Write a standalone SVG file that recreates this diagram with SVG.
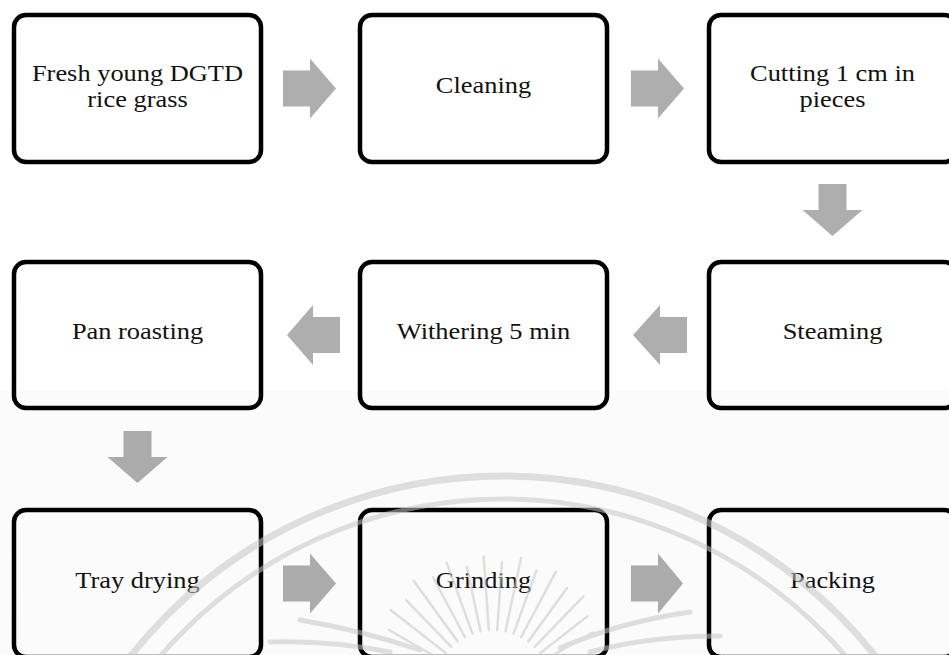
<svg xmlns="http://www.w3.org/2000/svg" width="949" height="655" viewBox="0 0 949 655">
  <style>
    .box { fill: #ffffff; stroke: #000000; stroke-width: 4.5; }
    .lbl { font-family: "Liberation Serif", "Times New Roman", serif; font-size: 24px; fill: #111111; text-anchor: middle; }
    .arr { fill: #AEAEAE; }
    .wm { fill: none; stroke: #c4c4c4; stroke-linecap: round; }
  </style>
  <rect width="949" height="655" fill="#ffffff"/>

  <g id="connectors">
    <path class="arr" d="M283,70.5 H310 V58.5 L336,88.5 L310,118.5 V106.5 H283 Z"/>
    <path class="arr" d="M631,70.5 H658 V58.5 L684,88.5 L658,118.5 V106.5 H631 Z"/>
    <path class="arr" d="M818.5,184 H846.5 V210 H862.5 L832.5,236 L802.5,210 H818.5 Z"/>
    <path class="arr" d="M687,317 H660 V305 L633,335 L660,365 V353 H687 Z"/>
    <path class="arr" d="M340,317 H313 V305 L287,335 L313,365 V353 H340 Z"/>
    <path class="arr" d="M123.5,431 H151.5 V457 H167.5 L137.5,483 L107.5,457 H123.5 Z"/>
    <path class="arr" d="M283,565.5 H310 V553.5 L336,583.5 L310,613.5 V601.5 H283 Z"/>
    <path class="arr" d="M631,565.5 H658 V553.5 L683,583.5 L658,613.5 V601.5 H631 Z"/>
  </g>

  <g id="n1"><rect class="box" x="14" y="15" width="247" height="147" rx="12"/>
    <text class="lbl" transform="translate(137.5,80.5) scale(1.1,1)">Fresh young DGTD</text>
    <text class="lbl" transform="translate(137.5,107) scale(1.1,1)">rice grass</text></g>
  <g id="n2"><rect class="box" x="360" y="15" width="247" height="147" rx="12"/>
    <text class="lbl" transform="translate(483.5,93) scale(1.1,1)">Cleaning</text></g>
  <g id="n3"><rect class="box" x="709" y="15" width="247" height="147" rx="12"/>
    <text class="lbl" transform="translate(832.5,80.5) scale(1.1,1)">Cutting 1 cm in</text>
    <text class="lbl" transform="translate(832.5,107) scale(1.1,1)">pieces</text></g>
  <g id="n4"><rect class="box" x="709" y="262" width="247" height="146" rx="12"/>
    <text class="lbl" transform="translate(832.5,339) scale(1.1,1)">Steaming</text></g>
  <g id="n5"><rect class="box" x="360" y="262" width="247" height="146" rx="12"/>
    <text class="lbl" transform="translate(483.5,339) scale(1.1,1)">Withering 5 min</text></g>
  <g id="n6"><rect class="box" x="14" y="262" width="247" height="146" rx="12"/>
    <text class="lbl" transform="translate(137.5,339) scale(1.1,1)">Pan roasting</text></g>
  <g id="n7"><rect class="box" x="14" y="510" width="247" height="147" rx="12"/>
    <text class="lbl" transform="translate(137.5,588) scale(1.1,1)">Tray drying</text></g>
  <g id="n8"><rect class="box" x="360" y="510" width="247" height="147" rx="12"/>
    <text class="lbl" transform="translate(483.5,588) scale(1.1,1)">Grinding</text></g>
  <g id="n9"><rect class="box" x="709" y="510" width="247" height="147" rx="12"/>
    <text class="lbl" transform="translate(832.5,588) scale(1.1,1)">Packing</text></g>

  <g id="watermark" opacity="0.55">
    <rect x="0" y="390" width="949" height="265" fill="#000000" opacity="0.025"/>
    <circle class="wm" cx="503" cy="951" r="475" stroke-width="7"/>
    <circle class="wm" cx="503" cy="951" r="452" stroke-width="5"/>
    <g transform="translate(493,690)" stroke="#c4c4c4" stroke-width="2.5" stroke-linecap="round">
      <line x1="60" y1="0" x2="120" y2="0" transform="rotate(-150)"/>
      <line x1="60" y1="0" x2="130" y2="0" transform="rotate(-142)"/>
      <line x1="60" y1="0" x2="125" y2="0" transform="rotate(-134)"/>
      <line x1="60" y1="0" x2="135" y2="0" transform="rotate(-126)"/>
      <line x1="60" y1="0" x2="128" y2="0" transform="rotate(-118)"/>
      <line x1="60" y1="0" x2="135" y2="0" transform="rotate(-110)"/>
      <line x1="60" y1="0" x2="126" y2="0" transform="rotate(-102)"/>
      <line x1="60" y1="0" x2="134" y2="0" transform="rotate(-94)"/>
      <line x1="60" y1="0" x2="128" y2="0" transform="rotate(-86)"/>
      <line x1="60" y1="0" x2="135" y2="0" transform="rotate(-78)"/>
      <line x1="60" y1="0" x2="127" y2="0" transform="rotate(-70)"/>
      <line x1="60" y1="0" x2="134" y2="0" transform="rotate(-62)"/>
      <line x1="60" y1="0" x2="126" y2="0" transform="rotate(-54)"/>
      <line x1="60" y1="0" x2="130" y2="0" transform="rotate(-46)"/>
      <line x1="60" y1="0" x2="120" y2="0" transform="rotate(-38)"/>
      <line x1="60" y1="0" x2="115" y2="0" transform="rotate(-30)"/>
    </g>
    <path class="wm" stroke-width="5" d="M300,620 Q360,630 420,650"/>
    <path class="wm" stroke-width="5" d="M270,642 Q330,640 390,652"/>
    <path class="wm" stroke-width="5" d="M690,612 Q620,622 560,648"/>
    <path class="wm" stroke-width="5" d="M720,636 Q650,636 590,652"/>
  </g>
</svg>
